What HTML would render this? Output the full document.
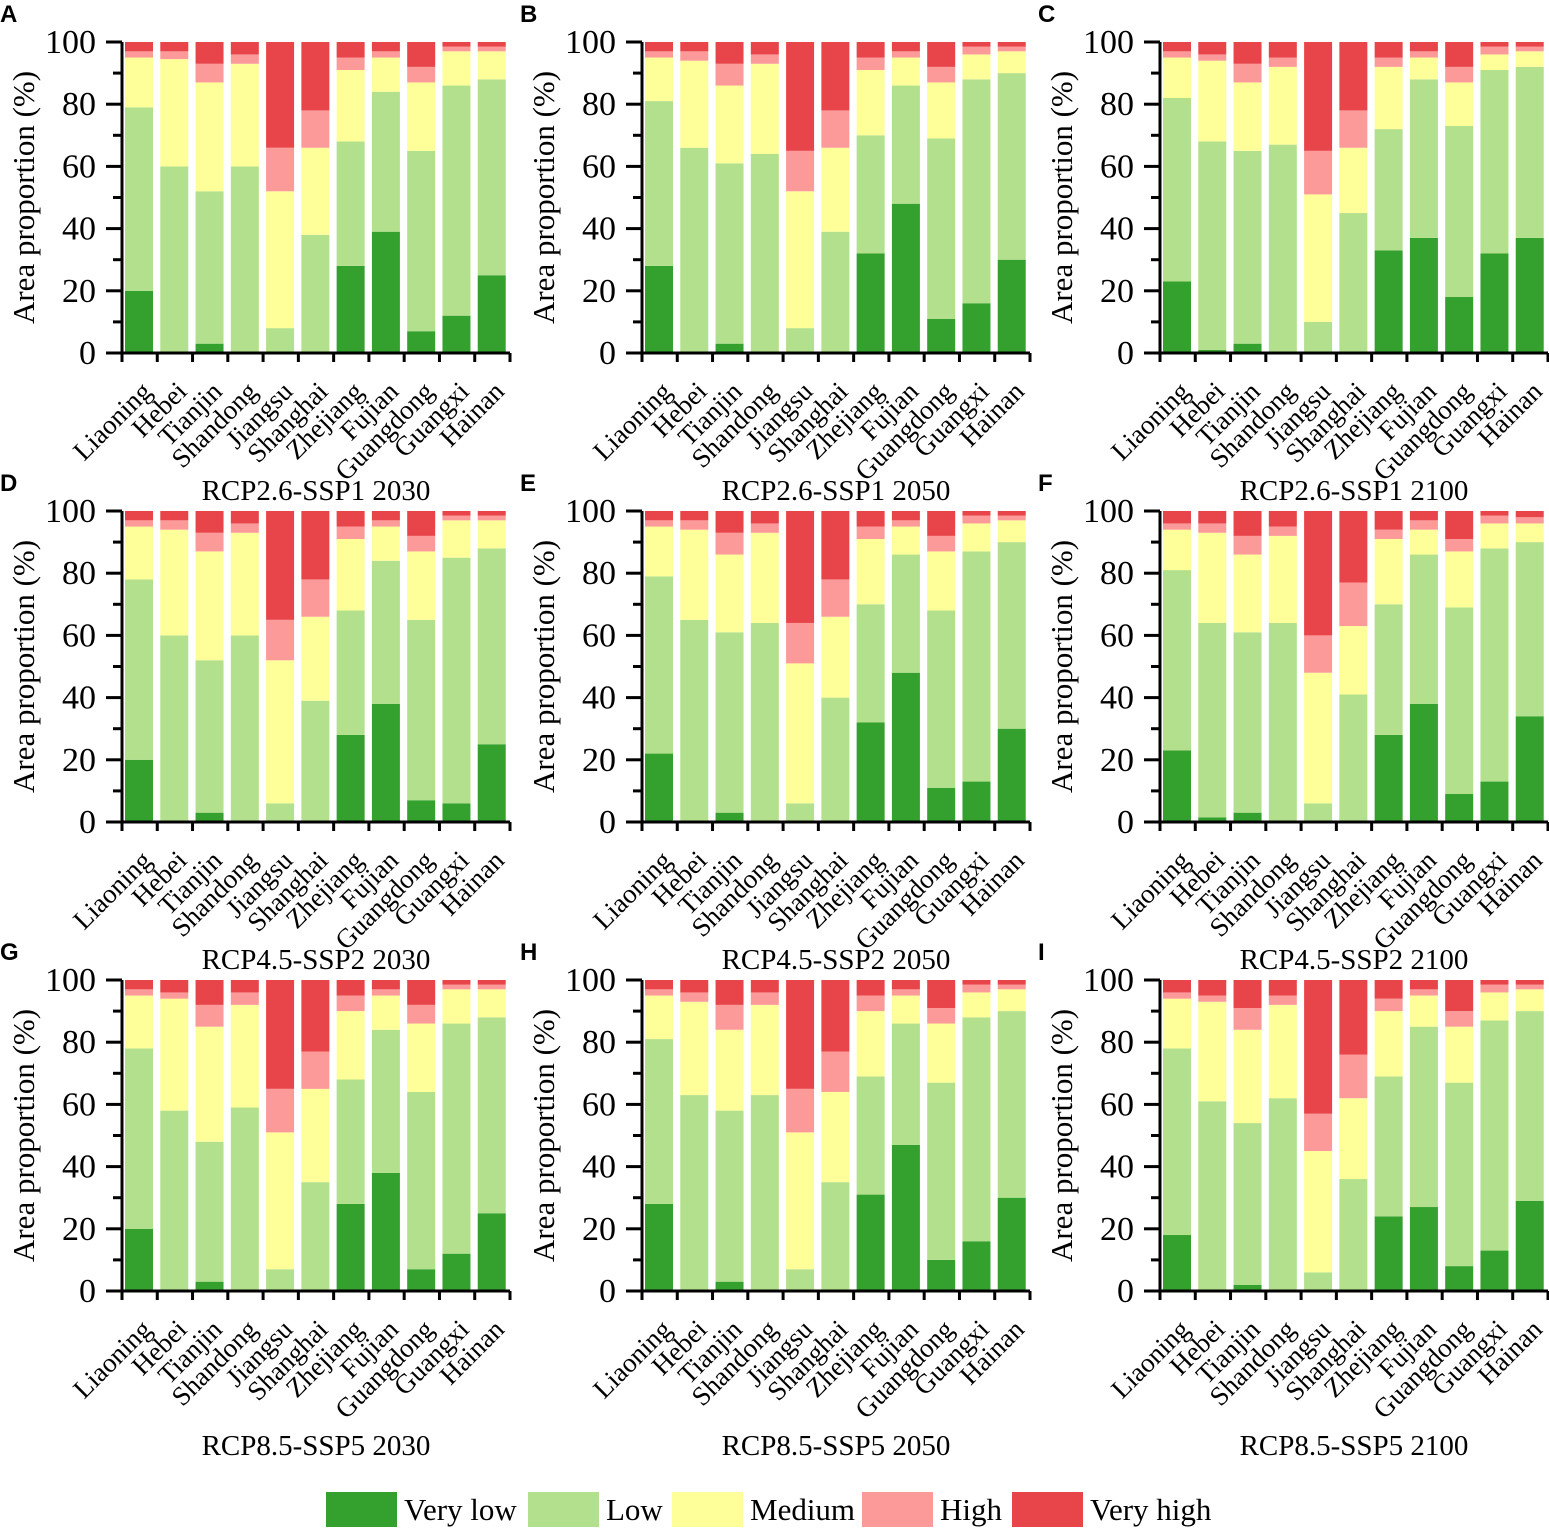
<!DOCTYPE html>
<html><head><meta charset="utf-8"><style>
html,body{margin:0;padding:0;background:#fff;}
svg{display:block;font-family:"Liberation Serif",serif;}
</style></head><body>
<svg id="chart" width="1549" height="1528" viewBox="0 0 1549 1528" xmlns="http://www.w3.org/2000/svg"></svg>
<script>
const provinces=["Liaoning","Hebei","Tianjin","Shandong","Jiangsu","Shanghai","Zhejiang","Fujian","Guangdong","Guangxi","Hainan"];
const panelLetters=["A","B","C","D","E","F","G","H","I"];
const panelTitles=["RCP2.6-SSP1 2030","RCP2.6-SSP1 2050","RCP2.6-SSP1 2100","RCP4.5-SSP2 2030","RCP4.5-SSP2 2050","RCP4.5-SSP2 2100","RCP8.5-SSP5 2030","RCP8.5-SSP5 2050","RCP8.5-SSP5 2100"];
const yTicks=[0,20,40,60,80,100];
const seriesNames=["Very low","Low","Medium","High","Very high"];
const seriesColors=["#34a02e","#b3e08c","#ffff99","#fb9a99","#e8454a"];
// cumulative upper boundaries (%) per panel: very-low top, low top, medium top, high top (very high to 100)
const veryLowTop=[
[20,0,3,0,0,0,28,39,7,12,25],
[28,0,3,0,0,0,32,48,11,16,30],
[23,1,3,0,0,0,33,37,18,32,37],
[20,0,3,0,0,0,28,38,7,6,25],
[22,0.5,3,0,0,0,32,48,11,13,30],
[23,1.5,3,0,0,0,28,38,9,13,34],
[20,0,3,0,0,0,28,38,7,12,25],
[28,0,3,0,0,0,31,47,10,16,30],
[18,0,2,0,0,0,24,27,8,13,29]];
const lowTop=[
[79,60,52,60,8,38,68,84,65,86,88],
[81,66,61,64,8,39,70,86,69,88,90],
[82,68,65,67,10,45,72,88,73,91,92],
[78,60,52,60,6,39,68,84,65,85,88],
[79,65,61,64,6,40,70,86,68,87,90],
[81,64,61,64,6,41,70,86,69,88,90],
[78,58,48,59,7,35,68,84,64,86,88],
[81,63,58,63,7,35,69,86,67,88,90],
[78,61,54,62,6,36,69,85,67,87,90]];
const mediumTop=[
[95,94.5,87,93,52,66,91,95,87,97,97],
[95,94,86,93,52,66,91,95,87,96,97],
[95,94,87,92,51,66,92,95,87,96,97],
[95,94,87,93,52,66,91,95,87,97,97],
[95,94,86,93,51,66,91,95,87,96,97],
[94,93,86,92,48,63,91,94,87,96,96],
[95,94,85,92,51,65,90,95,86,97,97],
[95,93,84,92,51,64,90,95,86,96,97],
[94,93,84,92,45,62,90,95,85,96,97]];
const highTop=[
[97,97,93,96,66,78,95,97,92,98.5,98.5],
[97,97,93,96,65,78,95,97,92,98.5,98.5],
[97,96,93,95,65,78,95,97,92,98.5,98.5],
[97,97,93,96,65,78,95,97,92,98.5,98.5],
[97,97,93,96,64,78,95,97,92,98.5,98.5],
[96,96,92,95,60,77,94,97,91,98.5,98],
[97,96,92,96,65,77,95,97,92,98.5,98.5],
[97,96,92,96,65,77,95,97,91,98.5,98.5],
[96,95,91,95,57,76,94,97,90,98.5,98.5]];

const NS="http://www.w3.org/2000/svg";
const svg=document.getElementById("chart");
function mk(tag,attrs,parent){const e=document.createElementNS(NS,tag);for(const k in attrs)e.setAttribute(k,attrs[k]);(parent||svg).appendChild(e);return e;}
const colX=[122,642,1160], rowZero=[353,822,1291], titleY=[500,969,1455];
const plotW=388, plotH=311, slot=plotW/11, barW=28;

for(let p=0;p<9;p++){
  const row=Math.floor(p/3);
  const x0=colX[p%3], y0=rowZero[row];
  const yScale=v=>y0-v/100*plotH;
  const xScale=i=>x0+slot*i+3;
  const g=mk("g",{});
  
  
  const bounds=[veryLowTop[p],lowTop[p],mediumTop[p],highTop[p]];
  for(let i=0;i<11;i++){
    let prev=0;
    for(let s=0;s<5;s++){
      const top=s<4?bounds[s][i]:100;
      if(top>prev){
        const r=mk("rect",{x:xScale(i),y:yScale(top),width:barW,height:yScale(prev)-yScale(top),fill:seriesColors[s]},g);
        
        
      }
      prev=Math.max(prev,top);
    }
  }
  const ax=mk("path",{d:`M${x0} ${yScale(100)}V${y0}H${x0+plotW}`,stroke:"#000","stroke-width":3,fill:"none"},g);
  
  
  for(let v=0;v<=100;v+=10){
    const major=v%20===0;
    mk("line",{x1:x0-(major?16:9),x2:x0,y1:yScale(v),y2:yScale(v),stroke:"#000","stroke-width":3},g);
  }
  yTicks.forEach(v=>{
    const t=mk("text",{x:x0-26,y:yScale(v)+11,"text-anchor":"end","font-size":34},g);
    t.textContent=v;
    
    
  });
  for(let i=0;i<=11;i++){
    const xx=x0+slot*i;
    mk("line",{x1:xx,x2:xx,y1:y0,y2:y0+9,stroke:"#000","stroke-width":3},g);
  }
  provinces.forEach((n,i)=>{
    const cx=xScale(i)+barW/2+14, cy=y0+40;
    const t=mk("text",{x:cx,y:cy,"text-anchor":"end","font-size":27,transform:`rotate(-45 ${cx} ${cy})`},g);
    t.textContent=n;
    
    
  });
  const yt=mk("text",{x:0,y:0,"text-anchor":"middle","font-size":31,transform:`translate(${x0-88} ${y0-plotH/2}) rotate(-90)`},g);
  yt.textContent="Area proportion (%)";
  
  
  const tt=mk("text",{x:x0+194,y:titleY[row],"text-anchor":"middle","font-size":29},g);
  tt.textContent=panelTitles[p];
  
  
  const lt=mk("text",{x:x0-122,y:y0-331,"font-size":24,"font-weight":"bold","font-family":"Liberation Sans, sans-serif"},g);
  lt.textContent=panelLetters[p];
  
  
}
const legX=[326,528,672,862,1012], legTX=[404,606,750,940,1090];
const lg=mk("g",{});


seriesNames.forEach((n,s)=>{
  const r=mk("rect",{x:legX[s],y:1492,width:71,height:35,fill:seriesColors[s]},lg);
  
  
  const t=mk("text",{x:legTX[s],y:1520,"font-size":31},lg);
  t.textContent=n;
  
  
});
</script>
</body></html>
